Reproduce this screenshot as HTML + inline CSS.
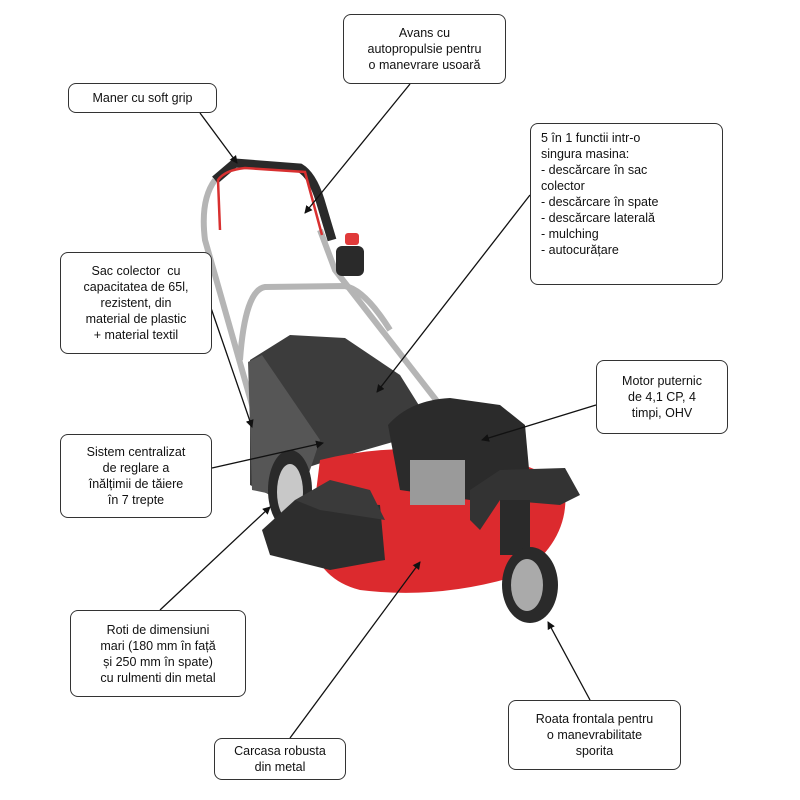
<!DOCTYPE html>
<html><head><meta charset="utf-8"><style>
body{margin:0;width:800px;height:800px;background:#fff;position:relative;overflow:hidden;font-family:"Liberation Sans",sans-serif;}
.b{position:absolute;border:1px solid #333;border-radius:8px;background:#fff;font-size:12.5px;line-height:16px;color:#111;box-sizing:border-box;padding:4px 6px;}
.c{text-align:center;display:flex;align-items:center;justify-content:center;}
svg{position:absolute;left:0;top:0}
</style></head><body>
<svg width="800" height="800" viewBox="0 0 800 800">
<defs><marker id="a" markerWidth="8" markerHeight="8" refX="7" refY="4" orient="auto" markerUnits="userSpaceOnUse"><path d="M0,0 L8,4 L0,8 Z" fill="#111"/></marker></defs>
<!-- handle bars -->
<path d="M262 440 L205 240 Q200 200 215 180" fill="none" stroke="#b5b5b5" stroke-width="6"/>
<path d="M440 405 L335 270 L320 230" fill="none" stroke="#b5b5b5" stroke-width="6"/>
<path d="M215 180 L235 163 L300 168 Q312 175 320 200 L332 240" fill="none" stroke="#2a2a2a" stroke-width="9"/>
<path d="M220 230 L218 180 Q225 170 245 168 L305 172 L322 235" fill="none" stroke="#d83030" stroke-width="2.5"/>
<path d="M240 360 Q245 290 265 287 L345 286 Q365 290 390 330" fill="none" stroke="#b5b5b5" stroke-width="6"/>
<rect x="336" y="246" width="28" height="30" rx="6" fill="#2a2a2a"/>
<rect x="345" y="233" width="14" height="12" rx="3" fill="#e03a3a"/>
<!-- grass bag -->
<path d="M250 360 L290 335 L345 338 L400 375 L425 415 L400 440 L330 460 L300 470 L270 495 L250 485 Z" fill="#3c3c3c"/>
<path d="M248 362 L262 355 L320 440 L300 500 L252 490 Z" fill="#565656"/>
<!-- red deck -->
<path d="M320 460 Q380 445 450 450 Q540 460 565 490 Q570 540 520 575 Q440 600 360 590 Q320 580 310 540 Z" fill="#dc2a2e"/>
<!-- engine -->
<path d="M388 425 Q410 400 450 398 L500 405 L525 425 L530 480 L470 500 L400 490 Z" fill="#2b2b2b"/>
<rect x="410" y="460" width="55" height="45" fill="#9a9a9a"/>
<!-- rear wheel -->
<ellipse cx="290" cy="490" rx="22" ry="40" fill="#2a2a2a"/><ellipse cx="290" cy="492" rx="13" ry="28" fill="#c8c8c8"/>
<!-- front shield -->
<path d="M262 530 L295 500 L380 505 L385 560 L330 570 L270 555 Z" fill="#2d2d2d"/>
<path d="M295 500 L330 480 L370 490 L385 520 L320 510 Z" fill="#3a3a3a"/>
<!-- fender + front wheel -->
<path d="M470 490 L500 470 L565 468 L580 495 L560 505 L500 500 L480 530 L470 520Z" fill="#333"/>
<rect x="500" y="500" width="30" height="55" fill="#2a2a2a"/>
<ellipse cx="530" cy="585" rx="28" ry="38" fill="#2a2a2a"/><ellipse cx="527" cy="585" rx="16" ry="26" fill="#aaa"/>
<!-- connectors -->
<g stroke="#111" stroke-width="1.3" fill="none" marker-end="url(#a)">
<line x1="410" y1="84" x2="305" y2="213"/>
<line x1="200" y1="113" x2="237" y2="163"/>
<line x1="530" y1="195" x2="377" y2="392"/>
<line x1="211" y1="308" x2="252" y2="427"/>
<line x1="596" y1="405" x2="482" y2="440"/>
<line x1="212" y1="468" x2="323" y2="443"/>
<line x1="160" y1="610" x2="270" y2="507"/>
<line x1="590" y1="700" x2="548" y2="622"/>
<line x1="290" y1="738" x2="420" y2="562"/>
</g>
</svg>
<div class="b c" style="left:343px;top:14px;width:163px;height:70px">Avans cu<br>autopropulsie pentru<br>o manevrare usoară</div>
<div class="b c" style="left:68px;top:83px;width:149px;height:30px">Maner cu soft grip</div>
<div class="b" style="left:530px;top:123px;width:193px;height:162px;padding:6px 10px">5 în 1 functii intr-o<br>singura masina:<br>- descărcare în sac<br>colector<br>- descărcare în spate<br>- descărcare laterală<br>- mulching<br>- autocurățare</div>
<div class="b c" style="left:60px;top:252px;width:152px;height:102px">Sac colector &nbsp;cu<br>capacitatea de 65l,<br>rezistent, din<br>material de plastic<br>+ material textil</div>
<div class="b c" style="left:596px;top:360px;width:132px;height:74px">Motor puternic<br>de 4,1 CP, 4<br>timpi, OHV</div>
<div class="b c" style="left:60px;top:434px;width:152px;height:84px">Sistem centralizat<br>de reglare a<br>înălțimii de tăiere<br>în 7 trepte</div>
<div class="b c" style="left:70px;top:610px;width:176px;height:87px">Roti de dimensiuni<br>mari (180 mm în față<br>și 250 mm în spate)<br>cu rulmenti din metal</div>
<div class="b c" style="left:508px;top:700px;width:173px;height:70px">Roata frontala pentru<br>o manevrabilitate<br>sporita</div>
<div class="b c" style="left:214px;top:738px;width:132px;height:42px">Carcasa robusta<br>din metal</div>
</body></html>
